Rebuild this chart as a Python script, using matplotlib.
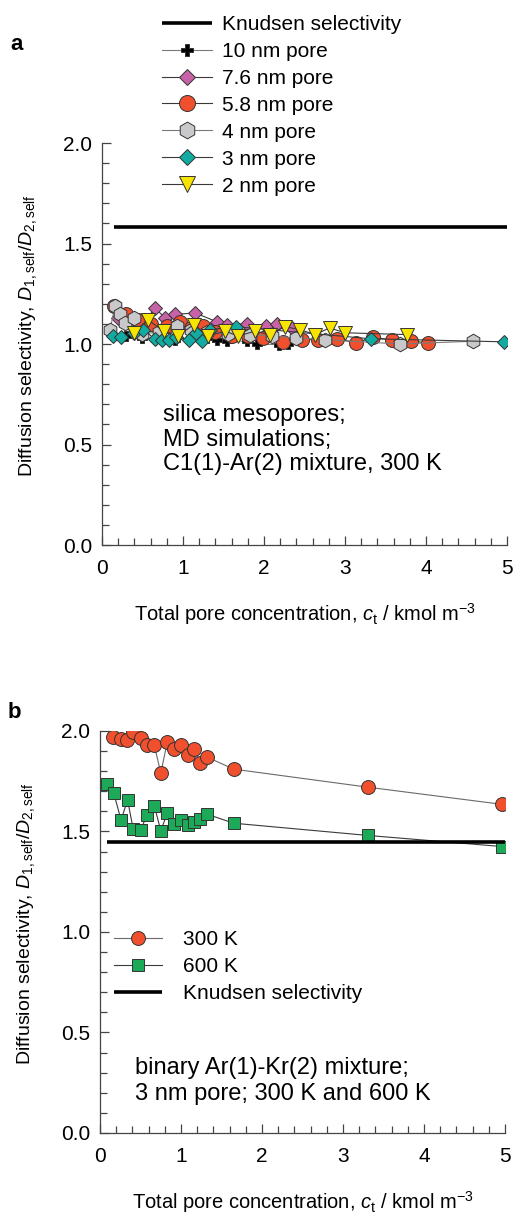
import matplotlib
matplotlib.use("Agg")
import matplotlib.pyplot as plt
from matplotlib.ticker import MultipleLocator

plt.rcParams["font.family"] = ["Liberation Sans", "DejaVu Sans"]
plt.rcParams["mathtext.fontset"] = "custom"
plt.rcParams["mathtext.rm"] = "Liberation Sans"
plt.rcParams["mathtext.it"] = "Liberation Sans:italic"

# ---- panel a: C1/Ar in silica mesopores, 300 K ----
knudsen_a = 1.58
knudsen_a_x = [0.15, 5.0]

x_10nm = [0.3, 0.5, 0.7, 0.9, 1.1, 1.3, 1.42, 1.54, 1.79, 1.91, 2.18, 2.3]
y_10nm = [1.04, 1.03, 1.03, 1.02, 1.03, 1.03, 1.022, 1.014, 1.014, 1.0, 0.997, 1.0]

x_7_6nm = [0.2, 0.35, 0.5, 0.65, 0.78, 0.9, 1.15, 1.42, 1.54, 1.79, 2.03, 2.16, 2.34]
y_7_6nm = [1.13, 1.1, 1.09, 1.18, 1.13, 1.147, 1.155, 1.11, 1.097, 1.1, 1.089, 1.1, 1.08]

x_5_8nm = [0.15, 0.3, 0.45, 0.6, 0.8, 0.96, 1.1, 1.25, 1.4, 1.6, 1.8, 1.99,
           2.24, 2.47, 2.67, 2.9, 3.14, 3.35, 3.58, 3.82, 4.03]
y_5_8nm = [1.19, 1.15, 1.12, 1.1, 1.09, 1.11, 1.08, 1.09, 1.06, 1.04, 1.04, 1.03,
           1.01, 1.022, 1.022, 1.026, 1.006, 1.035, 1.019, 1.014, 1.006]

x_4nm = [0.1, 0.16, 0.22, 0.28, 0.39, 0.5, 0.7, 0.92, 1.1, 1.3, 1.55, 1.83,
         2.1, 2.4, 2.75, 3.68, 4.58]
y_4nm = [1.07, 1.19, 1.15, 1.105, 1.13, 1.05, 1.06, 1.09, 1.07, 1.06, 1.05, 1.047,
         1.04, 1.03, 1.022, 1.0, 1.014]

x_3nm = [0.14, 0.24, 0.39, 0.51, 0.65, 0.74, 0.83, 0.91, 1.07, 1.16, 1.24, 1.33,
         1.66, 3.32, 4.96]
y_3nm = [1.04, 1.036, 1.056, 1.072, 1.026, 1.022, 1.022, 1.036, 1.022, 1.056, 1.014, 1.072,
         1.086, 1.026, 1.011]

x_2nm = [0.39, 0.57, 0.76, 0.94, 1.13, 1.31, 1.52, 1.68, 1.89, 2.07, 2.26, 2.44,
         2.63, 2.81, 3.0, 3.76]
y_2nm = [1.056, 1.12, 1.064, 1.04, 1.097, 1.04, 1.064, 1.04, 1.064, 1.047, 1.086, 1.072,
         1.047, 1.08, 1.056, 1.047]

# ---- panel b: Ar/Kr in 3 nm pore ----
knudsen_b = 1.45
knudsen_b_x = [0.08, 5.0]

x_300K = [0.16, 0.26, 0.33, 0.41, 0.50, 0.58, 0.67, 0.75, 0.83, 0.91, 1.0, 1.08,
          1.16, 1.24, 1.32, 1.65, 3.31, 4.96]
y_300K = [1.97, 1.96, 1.955, 1.997, 1.965, 1.93, 1.93, 1.79, 1.945, 1.91, 1.93, 1.88,
          1.91, 1.84, 1.87, 1.81, 1.72, 1.635]

x_600K = [0.09, 0.17, 0.26, 0.34, 0.41, 0.50, 0.58, 0.67, 0.75, 0.83, 0.91, 1.0,
          1.08, 1.16, 1.24, 1.32, 1.65, 3.31, 4.96]
y_600K = [1.736, 1.69, 1.557, 1.657, 1.51, 1.507, 1.58, 1.628, 1.504, 1.59, 1.537, 1.557,
          1.532, 1.549, 1.56, 1.586, 1.541, 1.48, 1.425]

EDGE = "#333333"
LINE = "#3a3a3a"


def style_axes(ax):
    ax.set_xlim(0, 5)
    ax.set_ylim(0, 2.0)
    for side in ("top", "right"):
        ax.spines[side].set_visible(False)
    for side in ("left", "bottom"):
        ax.spines[side].set_linewidth(0.9)
        ax.spines[side].set_color("#444444")
    ax.xaxis.set_major_locator(MultipleLocator(1))
    ax.xaxis.set_minor_locator(MultipleLocator(0.2))
    ax.yaxis.set_minor_locator(MultipleLocator(0.1))
    ax.set_yticks([0, 0.5, 1.0, 1.5, 2.0], labels=["0.0", "0.5", "1.0", "1.5", "2.0"])
    ax.tick_params(which="both", direction="in", color="#444444", width=0.9,
                   labelsize=15)
    ax.tick_params(which="major", length=6.5)
    ax.tick_params(which="minor", length=4.8)
    ax.tick_params(axis="x", pad=10)
    ax.tick_params(axis="y", pad=7)
    ax.set_xlabel(r"Total pore concentration, $c_{\mathrm{t}}$ / kmol m$^{-3}$", fontsize=14.5)
    ax.set_ylabel(r"Diffusion selectivity, $D_{\mathrm{1,self}}/D_{\mathrm{2,self}}$", fontsize=14)
    ax.xaxis.set_label_coords(0.5, -0.14)
    ax.yaxis.set_label_coords(-0.155, 0.52)


fig = plt.figure(figsize=(5.14, 12.15), dpi=100)
ax1 = fig.add_axes([0.1984, 0.5514, 0.788, 0.3309])
ax2 = fig.add_axes([0.1946, 0.0675, 0.788, 0.3309])

# panel a
ax1.plot(knudsen_a_x, [knudsen_a, knudsen_a], color="black", lw=2.6,
         solid_capstyle="butt", label="Knudsen selectivity")
series_a = [
    (x_10nm, y_10nm, "P", 7, "black", "#7a7a7a", "10 nm pore"),
    (x_7_6nm, y_7_6nm, "D", 7.2, "#c862a8", LINE, "7.6 nm pore"),
    (x_5_8nm, y_5_8nm, "o", 10, "#f0502d", LINE, "5.8 nm pore"),
    (x_4nm, y_4nm, "h", 10.5, "#c9c9cb", "#7a7a7a", "4 nm pore"),
    (x_3nm, y_3nm, "D", 7.2, "#12aba2", LINE, "3 nm pore"),
    (x_2nm, y_2nm, "v", 10, "#f7e400", LINE, "2 nm pore"),
]
for xs, ys, mk, ms, fc, lc, lab in series_a:
    ax1.plot(xs, ys, color=lc, lw=0.8, marker=mk, ms=ms, mfc=fc,
             mec=EDGE, mew=0.7, label=lab)
style_axes(ax1)
ax1.legend(loc="upper left", bbox_to_anchor=(162 / 514, 1 - 15 / 1215),
           bbox_transform=fig.transFigure, frameon=False, fontsize=15,
           handlelength=2.4, handletextpad=0.5, labelspacing=0.38,
           borderpad=0, borderaxespad=0, markerscale=1.15)
ax1.text(0.151, 0.35, "silica mesopores;\nMD simulations;\nC1(1)-Ar(2) mixture, 300 K",
         transform=ax1.transAxes, ha="left", va="top", fontsize=17, linespacing=1.14)

# panel b
ax2.plot(x_300K, y_300K, color="#6a6a6a", lw=0.8, marker="o", ms=10,
         mfc="#f0502d", mec=EDGE, mew=0.7, label="300 K")
ax2.plot(x_600K, y_600K, color=LINE, lw=0.8, marker="s", ms=9,
         mfc="#1daa58", mec=EDGE, mew=0.7, label="600 K")
ax2.plot(knudsen_b_x, [knudsen_b, knudsen_b], color="black", lw=2.6,
         solid_capstyle="butt", label="Knudsen selectivity")
style_axes(ax2)
ax2.legend(loc="upper left", bbox_to_anchor=(114 / 514, 1 - 930 / 1215),
           bbox_transform=fig.transFigure, frameon=False, fontsize=15,
           handlelength=2.3, handletextpad=1.0, labelspacing=0.38,
           borderpad=0, borderaxespad=0)
ax2.text(0.086, 0.19, "binary Ar(1)-Kr(2) mixture;\n3 nm pore; 300 K and 600 K",
         transform=ax2.transAxes, ha="left", va="top", fontsize=17, linespacing=1.25)

fig.text(17 / 514, 1 - 45 / 1215, "a", fontsize=16, fontweight="bold", ha="center", va="center")
fig.text(14 / 514, 1 - 712 / 1215, "b", fontsize=16, fontweight="bold", ha="center", va="center")

fig.savefig("out.png", dpi=100)
